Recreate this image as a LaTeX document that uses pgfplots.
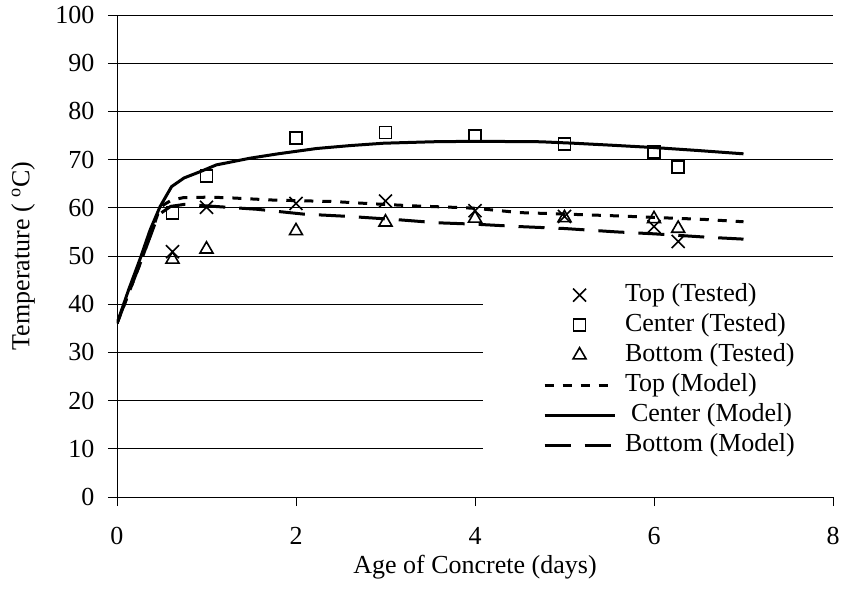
\documentclass[border=0pt]{standalone}
\usepackage{fontspec}
\setmainfont{Liberation Serif}
\usepackage{pgfplots}
\pgfplotsset{compat=1.18}
\begin{document}
\begin{tikzpicture}[font=\fontsize{26}{30}\selectfont]
\begin{axis}[name=ax, scale only axis, width=716pt, height=482pt,
 xmin=0, xmax=8, ymin=0, ymax=100,
 xtick={0,2,4,6,8}, ytick={0,10,...,100},
 axis x line=bottom, axis y line=left,
 axis line style={-, line width=0.9pt, black},
 tick align=outside, major tick length=9pt,
 tick style={black, line width=0.9pt},
 ymajorgrids, grid style={black, line width=0.9pt},
 /pgf/number format/assume math mode=true,
 xticklabel style={font=\fontsize{26}{30}\selectfont, yshift=-18pt},
 yticklabel style={font=\fontsize{26}{30}\selectfont, xshift=-10pt},
 xlabel={Age of Concrete (days)},
 ylabel={Temperature ( \textsuperscript{o}C)},
 every axis x label/.style={at={(axis description cs:0.5,-0.145)}, anchor=center},
 every axis y label/.style={at={(axis description cs:-0.131,0.5)}, rotate=90, anchor=center},
 legend style={at={(0.511,0.469)}, anchor=north west, fill=white, draw=none,
   inner xsep=60pt, inner ysep=12pt, row sep=6pt, column sep=9pt,
   nodes={inner sep=0pt, text height=18pt, text depth=6pt},
   font=\fontsize{26}{30}\selectfont},
 legend cell align=left,
 legend image code/.code={\draw[mark repeat=2,mark phase=2,#1] plot coordinates {(0pt,0pt)(35pt,0pt)(70pt,0pt)};},
]
\addplot[black, only marks, mark=x, mark size=9.2pt, mark options={line width=1.6pt}] coordinates {
 (0.62,50.9) (1,60.1) (2,60.9) (3,61.4) (4,59.4) (5,58.2) (6,56.1) (6.27,53.0)};
\addplot[black, only marks, mark=square, mark size=6pt, mark options={line width=1.6pt}] coordinates {
 (0.62,58.9) (1,66.6) (2,74.5) (3,75.6) (4,74.9) (5,73.2) (6,71.6) (6.27,68.5)};
\addplot[black, only marks, mark=triangle, mark size=7.5pt, mark options={line width=1.6pt}] coordinates {
 (0.62,49.3) (1,51.4) (2,55.2) (3,57.0) (4,57.8) (5,57.9) (6,57.7) (6.27,55.7)};
\addplot[black, line width=3pt, dash pattern=on 9pt off 9pt] coordinates {
 (0,36) (0.27,49) (0.46,58.9) (0.52,60.6) (0.61,61.6) (0.74,62.1) (1.0,62.2) (1.23,62.1)
 (1.75,61.6) (2.42,61.3) (2.79,60.9) (3.31,60.4) (3.76,60.1) (4.0,59.9) (4.5,59.0)
 (5.0,58.7) (5.62,58.3) (6.0,58.0) (6.55,57.6) (7.0,57.1)};
\addplot[black, line width=3pt] coordinates {
 (0,36) (0.13,43) (0.26,49.5) (0.37,55.4) (0.48,60.2) (0.61,64.4) (0.75,66.2) (0.93,67.5)
 (1.11,68.9) (1.49,70.3) (1.8,71.2) (2.23,72.3) (2.6,72.9) (2.98,73.4) (3.53,73.7)
 (4.0,73.8) (4.73,73.7) (5.1,73.4) (5.51,73.0) (6.0,72.5) (6.48,71.9) (7.0,71.2)};
\addplot[black, line width=3pt, dash pattern=on 26pt off 14pt] coordinates {
 (0,36) (0.27,49) (0.46,58.5) (0.6,60.3) (0.75,60.7) (1.0,60.4) (1.56,59.7) (2.08,58.7)
 (2.6,58.2) (3.16,57.5) (3.57,56.9) (4.0,56.6) (4.5,56.1) (5.0,55.7) (5.58,55.0)
 (6.0,54.6) (6.59,53.9) (7.0,53.5)};
\legend{Top (Tested), Center (Tested), Bottom (Tested), Top (Model), \hspace{6pt}Center (Model), Bottom (Model)}
\end{axis}
\pgfresetboundingbox
\path[use as bounding box] ([shift={(-117pt,-91pt)}]ax.south west) rectangle ([shift={(8pt,15pt)}]ax.north east);
\end{tikzpicture}
\end{document}
